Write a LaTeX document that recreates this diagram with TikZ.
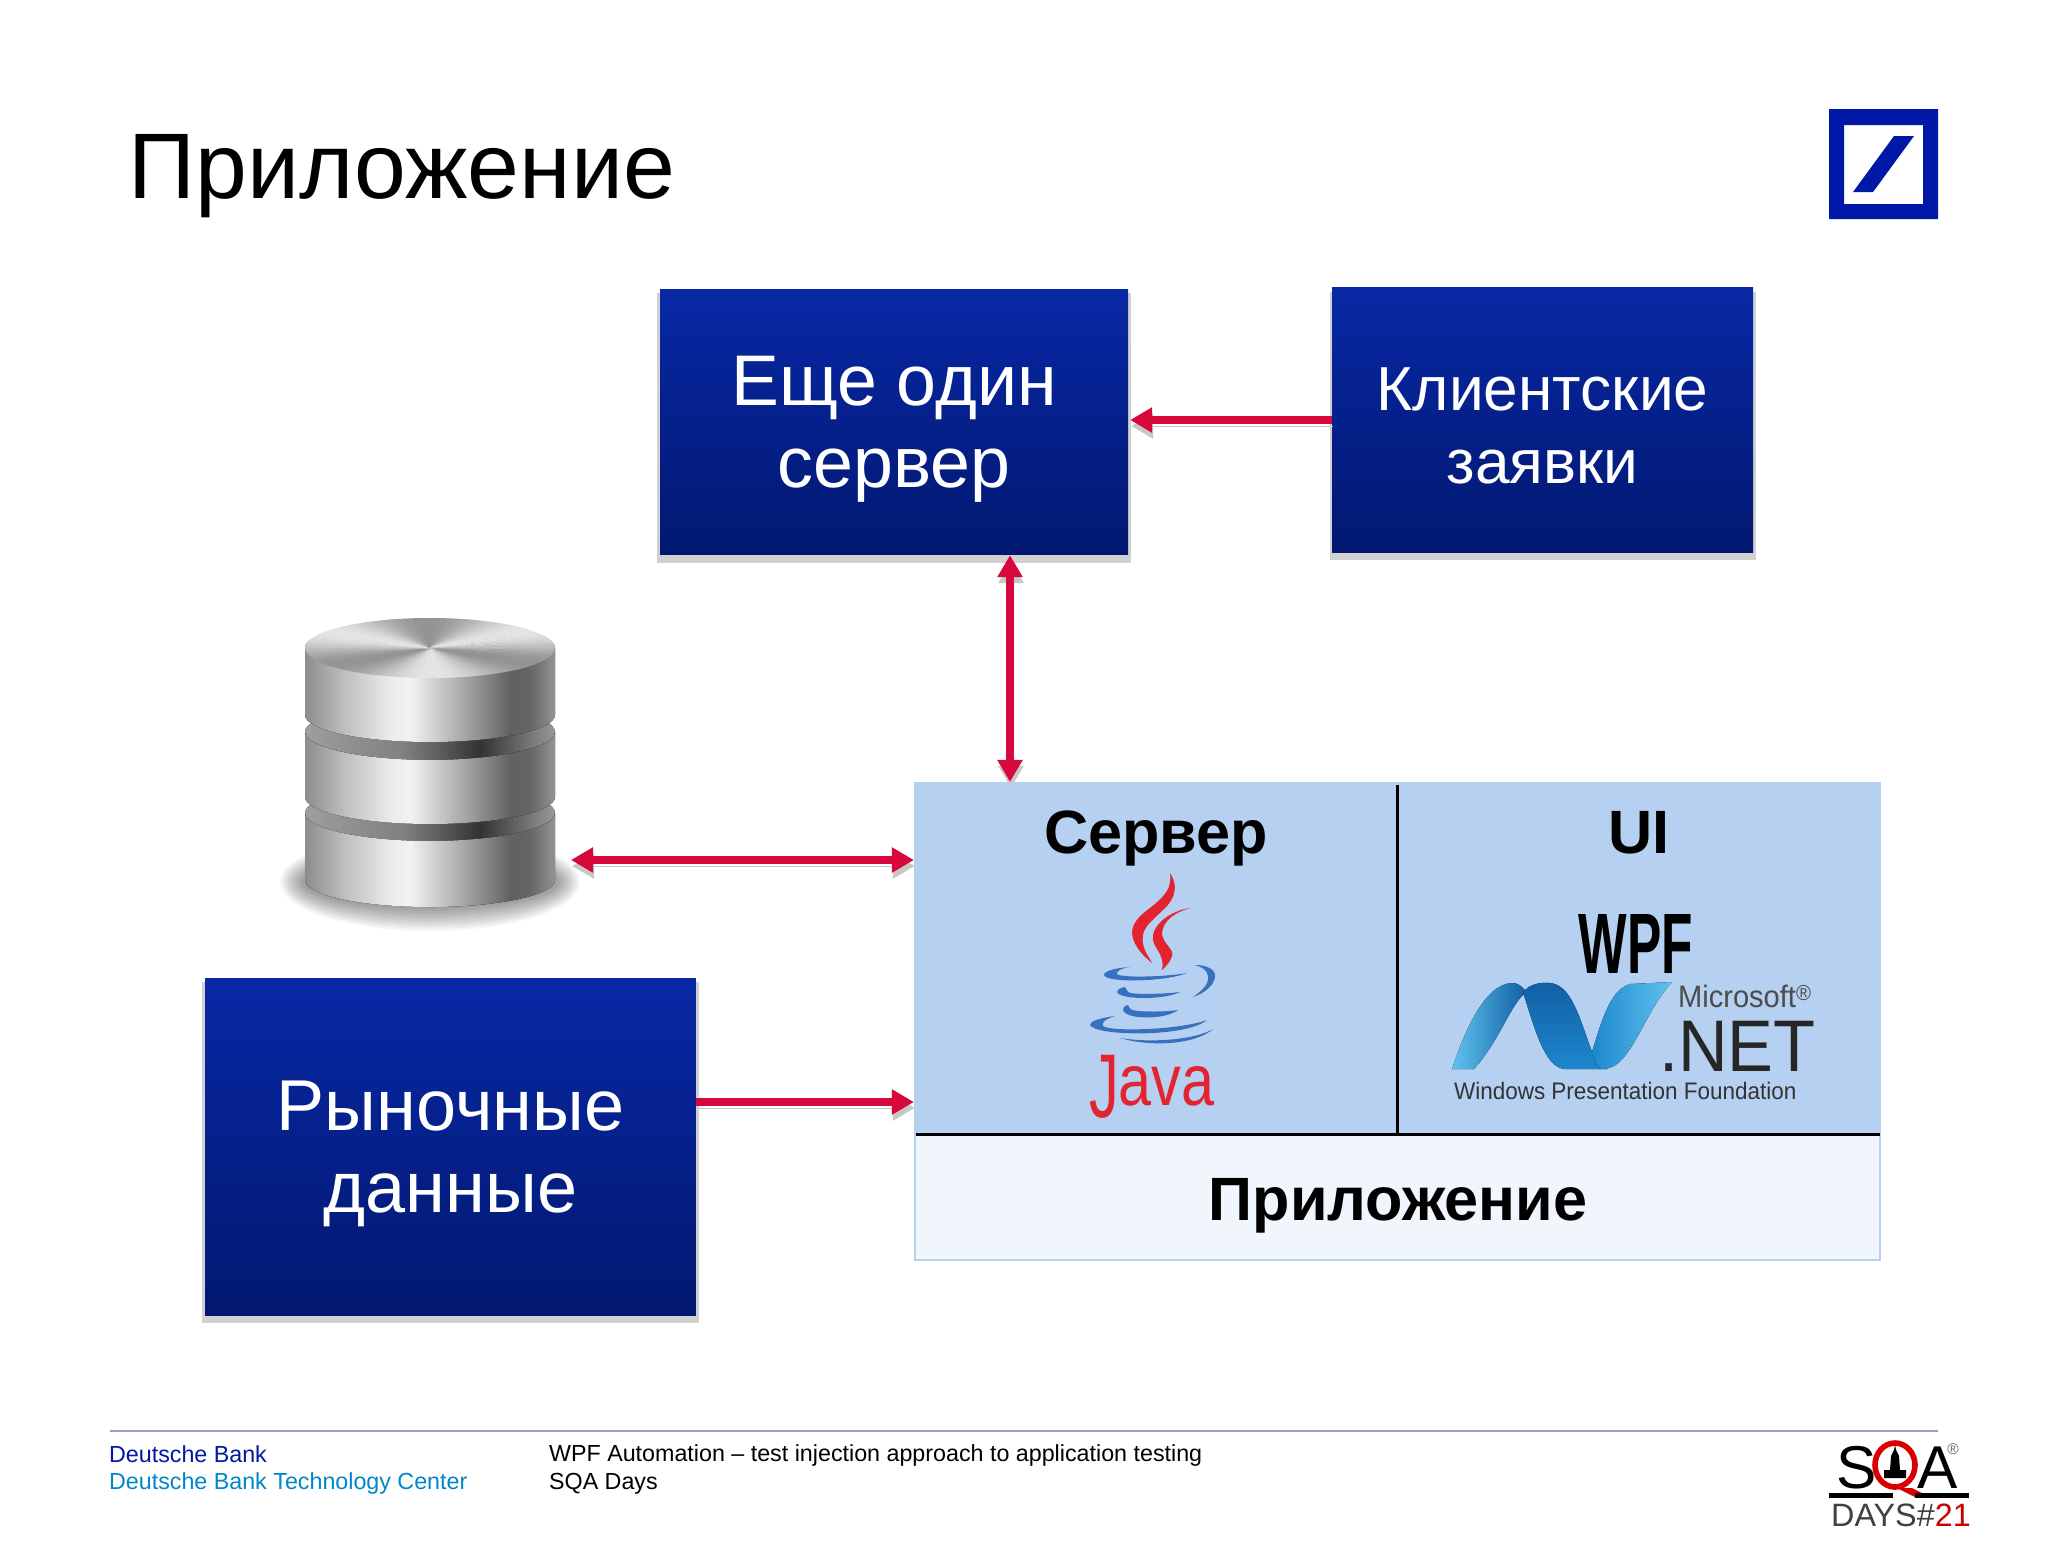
\documentclass[tikz,border=0pt]{standalone}
\usepackage{fontspec}
\setmainfont{Liberation Sans}
\newfontfamily\narrowfont[FakeStretch=0.94]{Liberation Sans}
\newfontfamily\javafont[FakeStretch=0.82]{Liberation Sans}
\newfontfamily\wpffont[FakeStretch=0.6]{Liberation Sans}
\usetikzlibrary{arrows.meta}
\usetikzlibrary{shadows}
\definecolor{dbblue}{RGB}{0,24,168}
\definecolor{boxtop}{RGB}{8,40,165}
\definecolor{boxmid}{RGB}{6,34,155}
\definecolor{boxbottom}{RGB}{2,24,112}
\definecolor{linkred}{RGB}{214,8,60}
\definecolor{appblue}{RGB}{181,208,240}
\definecolor{applight}{RGB}{241,245,252}
\definecolor{javared}{RGB}{228,35,48}
\definecolor{javablue}{RGB}{55,112,190}
\definecolor{netdark}{RGB}{18,95,165}
\definecolor{netmid}{RGB}{30,135,205}
\definecolor{netlight}{RGB}{95,195,238}
\definecolor{footline}{RGB}{150,160,190}
\definecolor{centerblue}{RGB}{0,135,200}
\pgfdeclarehorizontalshading{metal}{100bp}{rgb(0bp)=(.55,.55,.55); rgb(25bp)=(.55,.55,.55); rgb(33bp)=(.75,.75,.75); rgb(42bp)=(.92,.92,.92); rgb(46bp)=(.95,.95,.95); rgb(58bp)=(.62,.62,.62); rgb(66bp)=(.38,.38,.38); rgb(70bp)=(.40,.40,.40); rgb(75bp)=(.58,.58,.58); rgb(100bp)=(.58,.58,.58)}
\pgfdeclarehorizontalshading{groove}{100bp}{rgb(0bp)=(.62,.62,.62); rgb(25bp)=(.62,.62,.62); rgb(45bp)=(.5,.5,.5); rgb(60bp)=(.2,.2,.2); rgb(75bp)=(.6,.6,.6); rgb(100bp)=(.6,.6,.6)}
\tikzset{
  bluebox/.style={rectangle,inner sep=0pt,text=white,top color=boxtop,middle color=boxmid,bottom color=boxbottom,drop shadow={shadow xshift=0cm,shadow yshift=-0.3cm,shadow scale=1.012,fill=black,opacity=0.18},align=center},
  linkline/.style={draw=linkred,line width=0.4cm,preaction={draw=black!22,transform canvas={xshift=0.05cm,yshift=-0.3cm}}},
  linkone/.style={linkline,-{Triangle[length=1.1cm,width=1.2cm]}},
  linktwo/.style={linkline,{Triangle[length=1.1cm,width=1.2cm]}-{Triangle[length=1.1cm,width=1.2cm]}},
  applabel/.style={font=\bfseries\fontsize{87}{87}\selectfont,text=black},
  foottext/.style={font=\fontsize{33.1}{33.1}\selectfont,anchor=base west,inner sep=0pt},
}
\newcommand{\dbdisk}[2]{
\fill[shading=groove] (430,#1) ellipse [x radius=125,y radius=28];
\fill[shading=metal] (305,#1) -- (305,#2) arc[start angle=180,end angle=0,x radius=125,y radius=27] -- (555,#1) arc[start angle=0,end angle=180,x radius=125,y radius=28] -- cycle;
}
\begin{document}
\begin{tikzpicture}[x=0.05cm,y=-0.05cm]
\useasboundingbox (0,0) rectangle (2048,1541);
\fill[white] (0,0) rectangle (2048,1541);
\node[font=\fontsize{132.5}{132.5}\selectfont,anchor=base west,inner sep=0pt] (title) at (128.5,198) {Приложение};
% logo
\fill[dbblue,even odd rule] (1829,109) rectangle (1938,219) (1844,125) rectangle (1923,204);
\fill[dbblue] (1853,192) -- (1873,192) -- (1914,136) -- (1894,136) -- cycle;

% boxes
\node[bluebox,minimum width=23.4cm,minimum height=13.3cm,font=\fontsize{102}{117}\selectfont] (server) at (894,422) {\rule{0pt}{90pt}Еще один\\сервер};
\node[bluebox,minimum width=21.05cm,minimum height=13.25cm,font=\fontsize{88.5}{104}\selectfont] (client) at (1542.5,420) {\rule{0pt}{78pt}Клиентские\\заявки};
\node[bluebox,minimum width=24.55cm,minimum height=16.85cm,font=\fontsize{102.5}{117}\selectfont] (market) at (450.5,1146.5) {\rule{0pt}{92pt}Рыночные\\данные};

% application
\fill[appblue] (914,782) rectangle (1881,1134);
\draw[fill=applight,draw=appblue,line width=0.12cm] (915,1134) rectangle (1880,1260);
\node[minimum width=48.35cm,minimum height=23.9cm,inner sep=0pt] (app) at (1397.5,1021) {};
\draw[black,line width=0.15cm] (1397,785) -- (1397,1134);
\draw[black,line width=0.15cm] (916,1134) -- (1880,1134);
\node[applabel] (srvlabel) at (1156,838) {Сервер};
\node[applabel] (uilabel) at (1639,833) {UI};
\node[applabel] (applabel) at (1398,1206) {Приложение};

% java
\fill[javared] (1170,873) .. controls (1178,885) and (1176,897) .. (1165,908) .. controls (1155,918) and (1144,926) .. (1143,935) .. controls (1141,948) and (1148,955) .. (1152,963) .. controls (1142,955) and (1133,945) .. (1132,933) .. controls (1132,920) and (1145,912) .. (1155,904) .. controls (1165,895) and (1172,888) .. (1170,873) -- cycle;
\fill[javared] (1190,908) .. controls (1176,912) and (1163,920) .. (1162,933) .. controls (1162,943) and (1175,950) .. (1172,956) .. controls (1170,963) and (1165,967) .. (1162,970) .. controls (1165,955) and (1155,950) .. (1153,940) .. controls (1151,925) and (1170,911) .. (1190,908) -- cycle;
\fill[javablue] (1130,967) .. controls (1115,968) and (1104,971) .. (1104,975) .. controls (1106,983) and (1165,982) .. (1187,973) .. controls (1165,977) and (1120,978) .. (1117,974) .. controls (1116,971) and (1122,968) .. (1130,967) -- cycle;
\fill[javablue] (1195,965) .. controls (1208,965) and (1216,970) .. (1215,977) .. controls (1214,986) and (1203,994) .. (1193,997) .. controls (1203,990) and (1209,984) .. (1208,976) .. controls (1207,970) and (1202,967) .. (1195,965) -- cycle;
\fill[javablue] (1125,987) .. controls (1119,988) and (1117,990) .. (1117,992) .. controls (1120,1000) and (1165,1000) .. (1180,992) .. controls (1165,994) and (1132,995) .. (1128,992) .. controls (1126,990) and (1126,989) .. (1125,987) -- cycle;
\fill[javablue] (1128,1005) .. controls (1124,1006) and (1123,1008) .. (1123,1010) .. controls (1126,1020) and (1165,1020) .. (1178,1010) .. controls (1165,1012) and (1140,1012) .. (1132,1010) .. controls (1129,1008) and (1129,1007) .. (1128,1005) -- cycle;
\fill[javablue] (1115,1016) .. controls (1100,1018) and (1090,1021) .. (1090,1025) .. controls (1095,1036) and (1185,1038) .. (1207,1020) .. controls (1180,1030) and (1110,1032) .. (1103,1026) .. controls (1101,1022) and (1106,1019) .. (1115,1016) -- cycle;
\fill[javablue] (1120,1038) .. controls (1150,1043) and (1195,1040) .. (1213,1029) .. controls (1195,1045) and (1150,1047) .. (1120,1038) -- cycle;
\node[font=\javafont\fontsize{103}{103}\selectfont,text=javared,anchor=base west,inner sep=0pt] (javaname) at (1089,1105) {\raisebox{-18pt}{\scalebox{1}[1.25]{J}}ava};

% wpf
\node[font=\wpffont\bfseries\fontsize{122}{122}\selectfont,anchor=base,inner sep=0pt] (wpfname) at (1636,973) {WPF};
\fill[left color=netlight,right color=netdark] (1452,1069) .. controls (1465,1030) and (1485,984) .. (1512,983) .. controls (1518,983) and (1522,986) .. (1526,992) .. controls (1510,1005) and (1500,1040) .. (1474,1069) -- cycle;
\fill[top color=netdark,bottom color=netmid] (1523,992) .. controls (1530,984) and (1540,982) .. (1550,983) .. controls (1572,985) and (1580,1020) .. (1592,1052) .. controls (1597,1062) and (1602,1066) .. (1607,1069) -- (1565,1069) .. controls (1545,1068) and (1535,1030) .. (1523,992) -- cycle;
\fill[left color=netmid,right color=netlight] (1592,1052) .. controls (1602,1020) and (1610,990) .. (1630,984) -- (1672,982) .. controls (1650,1005) and (1635,1050) .. (1618,1063) .. controls (1612,1068) and (1608,1069) .. (1600,1069) .. controls (1597,1066) and (1594,1060) .. (1592,1052) -- cycle;
\node[font=\narrowfont\fontsize{44}{44}\selectfont,text=black!70,anchor=base west,inner sep=0pt] (msname) at (1678,1007) {Microsoft\textsuperscript{®}};
\node[font=\narrowfont\fontsize{104}{104}\selectfont,text=black!85,anchor=base west,inner sep=0pt] (netname) at (1659,1071) {.NET};
\node[font=\narrowfont\fontsize{34}{34}\selectfont,text=black!80,anchor=base west,inner sep=0pt] (wpflong) at (1454,1099) {Windows Presentation Foundation};

% database
\foreach \r in {0,1,...,11}{
\fill[black,opacity=0.035] (430,882) ellipse [x radius={128+2*\r},y radius={27+2*\r}];
}
\dbdisk{813}{880}
\dbdisk{732}{797}
\dbdisk{648}{715}
\begin{scope}
\clip (430,648) ellipse [x radius=125,y radius=30];
\foreach \a in {0,4,...,356}{
\pgfmathsetmacro\g{74+16*cos(3*\a+100)}
\fill[white!\g!black,draw=white!\g!black,line width=0.02cm] (430,648) -- ({430+140*cos(\a)},{648+40*sin(\a)}) -- ({430+140*cos(\a+4)},{648+40*sin(\a+4)}) -- cycle;
}
\end{scope}
\coordinate (dbport) at (571,860);
\coordinate (marketport) at (696,1102);
\coordinate (linktop) at (1010,670);

% links
\draw[linkone,shorten >=0.1cm] (client.west) -- (client.west -| server.east);
\draw[linktwo] (linktop |- server.south) -- (linktop |- app.north);
\draw[linktwo] (dbport) -- (dbport -| app.west);
\draw[linkone] (marketport) -- (marketport -| app.west);

% footer
\draw[draw=footline,line width=0.1cm] (110,1431) -- (1938,1431);
\node[foottext,text=dbblue] (bankname) at (109,1462) {Deutsche Bank};
\node[foottext,text=centerblue] (bankcenter) at (109,1489) {Deutsche Bank Technology Center};
\node[foottext] (talkname) at (549,1461) {WPF Automation – test injection approach to application testing};
\node[foottext] (confname) at (549,1489) {SQA Days};

% sqa logo
\node[font=\fontsize{86}{86}\selectfont,anchor=base,inner sep=0pt] (sqas) at (1857,1488) {S};
\draw[red!85!black,line width=0.28cm] (1895,1465) ellipse [x radius=20,y radius=22];
\fill[red!85!black] (1897,1488) -- (1912,1488) -- (1930,1497) -- (1915,1497) -- cycle;
\fill[black] (1884,1478) -- (1906,1478) -- (1906,1470) -- (1900,1470) -- (1899,1456) -- (1896,1450) -- (1895,1445) -- (1894,1450) -- (1891,1456) -- (1890,1470) -- (1884,1470) -- cycle;
\node[font=\fontsize{86}{86}\selectfont,anchor=base,inner sep=0pt] (sqaa) at (1938,1488) {A};
\node[font=\fontsize{22}{22}\selectfont,text=black!60,anchor=center,inner sep=0pt] (sqareg) at (1953,1449) {®};
\fill[black] (1829,1493) rectangle (1893,1498);
\fill[black] (1915,1493) rectangle (1969,1498);
\node[font=\fontsize{46}{46}\selectfont,text=black!75,anchor=base west,inner sep=0pt] (sqadays) at (1831,1526) {DAYS\#\textcolor{red!80!black}{21}};
\end{tikzpicture}
\end{document}
